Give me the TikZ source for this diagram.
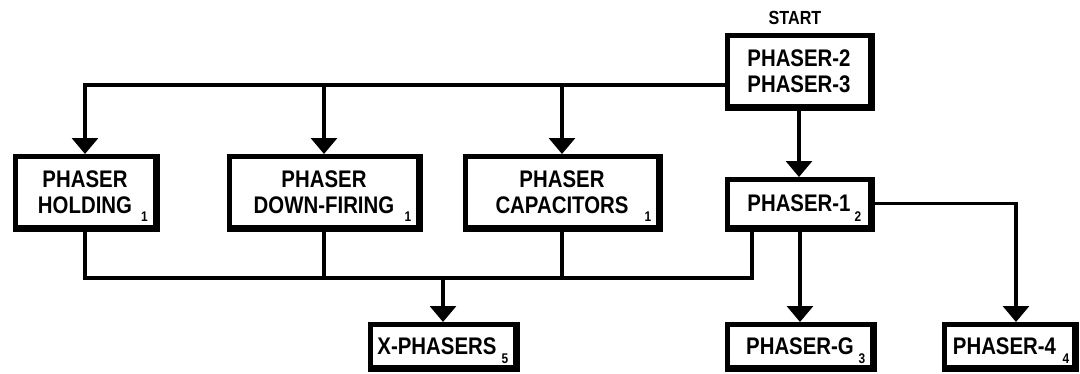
\documentclass[tikz,border=0pt]{standalone}
\usepackage{fontspec}
\newfontfamily\cf[FakeStretch=0.85]{Liberation Sans}
\usetikzlibrary{arrows.meta}
\tikzset{
  box/.style={draw, line width=5pt, fill=white, inner sep=0pt, align=center,
    font=\cf\bfseries\fontsize{24}{26}\selectfont},
  sub/.style={inner sep=0pt, anchor=base, font=\cf\bfseries\fontsize{14}{14}\selectfont},
  conn/.style={line width=3.2pt},
  arr/.style={conn, -{Triangle[width=26pt,length=16pt]}},
  heavy/.style={line width=4pt, line join=miter},
  lbl/.style={inner sep=0pt, font=\cf\bfseries\fontsize{19}{19}\selectfont}
}
\begin{document}
\begin{tikzpicture}[x=1pt,y=-1pt]
\useasboundingbox (0,0) rectangle (1080,373);
% nodes
\node[lbl] (startlbl) at (795,18) {START};
\node[box, minimum width=143pt, minimum height=71pt] (start) at (799,71) {PHASER-2\\PHASER-3};
\node[box, minimum width=140pt, minimum height=71pt] (hold) at (85,192) {PHASER\\HOLDING};
\node[box, minimum width=189pt, minimum height=71pt] (down) at (324,192) {PHASER\\DOWN-FIRING};
\node[box, minimum width=193pt, minimum height=71pt] (cap) at (562,192) {PHASER\\CAPACITORS};
\node[box, minimum width=143pt, minimum height=48pt] (p1) at (799,203.5) {PHASER-1};
\node[box, minimum width=145pt, minimum height=43pt] (xph) at (443,346) {X-PHASERS\hspace*{12pt}};
\node[box, minimum width=145pt, minimum height=43pt] (pg) at (800,346) {PHASER-G};
\node[box, minimum width=130pt, minimum height=43pt] (p4) at (1009.5,346) {PHASER-4\hspace*{10pt}};
% heavy right/bottom edges
\foreach \n in {start,hold,down,cap,p1,xph,pg,p4}
  \draw[heavy] (\n.north east) -- (\n.south east) -- (\n.south west);
% subscript numbers
\node[sub] (hold-n) at ([shift={(-13pt,9pt)}]hold.south east) {1};
\node[sub] (down-n) at ([shift={(-13pt,9pt)}]down.south east) {1};
\node[sub] (cap-n) at ([shift={(-13pt,9pt)}]cap.south east) {1};
\node[sub] (p1-n) at ([shift={(-15pt,9pt)}]p1.south east) {2};
\node[sub] (xph-n) at ([shift={(-13pt,7pt)}]xph.south east) {5};
\node[sub] (pg-n) at ([shift={(-13pt,7pt)}]pg.south east) {3};
\node[sub] (p4-n) at ([shift={(-11pt,7pt)}]p4.south east) {4};
% connectors
\coordinate (tl) at ([yshift=-14pt]start.west);
\draw[arr] (tl) -| (hold.north);
\draw[arr] (tl -| down.north) -- (down.north);
\draw[arr] (tl -| cap.north) -- (cap.north);
\draw[arr] (start.south) -- (p1.north);
\draw[arr] (p1.south -| pg.north) -- (pg.north);
\draw[arr] (p1.east) -| ([xshift=6.5pt]p4.north);
\coordinate (busR) at (752,278);
\draw[conn] (hold.south) |- (busR) -- (busR |- p1.south);
\draw[conn] (down.south) -- (down.south |- busR);
\draw[conn] (cap.south) -- (cap.south |- busR);
\draw[arr] (xph.north |- busR) -- (xph.north);
\end{tikzpicture}
\end{document}
